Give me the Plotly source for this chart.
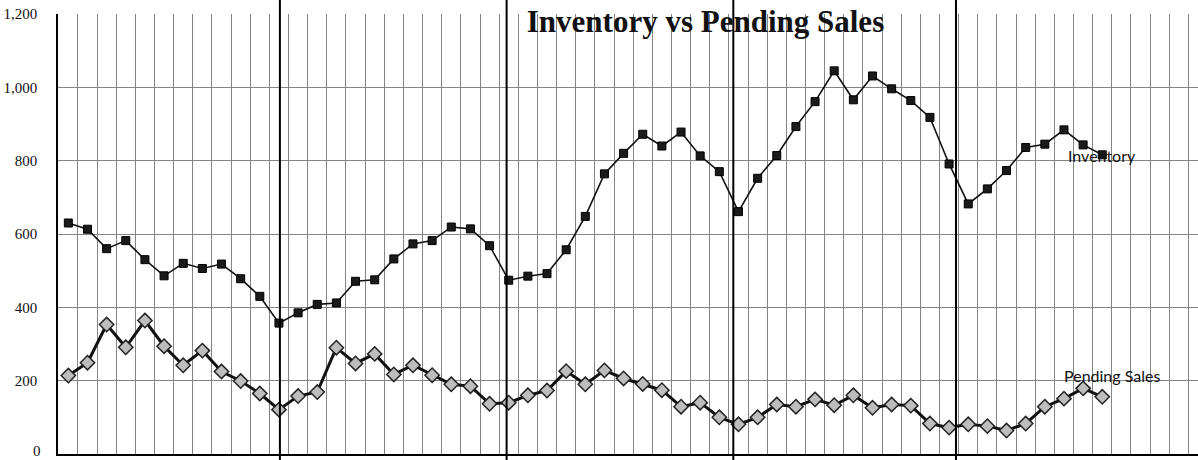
import plotly.graph_objects as go

# ---- data ----
inventory = [630, 613, 560, 582, 530, 486, 520, 506, 518, 478, 430, 357,
             385, 408, 412, 471, 475, 532, 573, 582, 619, 614, 568, 474,
             485, 492, 557, 648, 764, 820, 872, 840, 878, 813, 770, 661,
             752, 814, 893, 961, 1045, 966, 1031, 996, 964, 918, 791, 682,
             723, 773, 836, 845, 884, 843, 816]
pending_sales = [214, 249, 353, 291, 364, 294, 242, 282, 225, 199, 165, 121,
                 158, 169, 290, 247, 273, 217, 242, 215, 190, 185, 137, 140,
                 160, 173, 226, 190, 228, 206, 191, 174, 129, 140, 100, 81,
                 100, 135, 129, 149, 133, 160, 126, 135, 132, 83, 72, 81,
                 76, 64, 83, 129, 151, 179, 156]
months = list(range(len(inventory)))
separators = [11.05, 22.89, 34.73, 46.36]   # hand-drawn year separator lines
y_ticks = [0, 200, 400, 600, 800, 1000, 1200]
y_tick_labels = ["0", "200", "400", "600", "800", "1,000", "1,200"]
title_text = "Inventory vs Pending Sales"

tick_font = dict(family="Liberation Serif", size=15, color="#111")

fig = go.Figure()

fig.add_trace(go.Scatter(
    x=months, y=inventory, name="Inventory", mode="lines+markers",
    line=dict(color="#111111", width=1.6),
    marker=dict(symbol="square", size=8, color="#1a1a1a",
                line=dict(color="#000000", width=1)),
    cliponaxis=False,
))
fig.add_trace(go.Scatter(
    x=months, y=pending_sales, name="Pending Sales", mode="lines+markers",
    line=dict(color="#111111", width=3),
    marker=dict(symbol="diamond", size=11, color="#bdbdbd",
                line=dict(color="#222222", width=1.5)),
    cliponaxis=False,
))

for s in separators:
    fig.add_shape(type="line", xref="x", yref="paper", x0=s, x1=s,
                  y0=-0.02, y1=1.04, line=dict(color="#000000", width=2),
                  layer="above")

# series labels at the last points
fig.add_annotation(x=months[-1], y=inventory[-1], text="Inventory",
                   showarrow=False, xanchor="center", yanchor="middle",
                   yshift=-1, font=dict(family="Lato", size=16, color="#111"))
fig.add_annotation(x=months[-1], y=pending_sales[-1], text="Pending Sales",
                   showarrow=False, xanchor="center", yanchor="middle",
                   xshift=10, yshift=21,
                   font=dict(family="Lato", size=16, color="#111"))

# bottom tick label drawn separately so it stays fully inside the page
fig.add_annotation(xref="paper", x=0, y=y_ticks[0], yref="y",
                   text=y_tick_labels[0], showarrow=False,
                   xanchor="right", yanchor="middle", xshift=-15, yshift=3,
                   font=tick_font)

fig.update_layout(
    width=1198, height=460,
    margin=dict(l=58, r=0, t=14, b=6, autoexpand=False),
    paper_bgcolor="white", plot_bgcolor="white",
    showlegend=False,
    title=dict(text="<b>" + title_text + "</b>", xref="container",
               yref="container", x=705.5 / 1198, y=1 - 21 / 460,
               xanchor="center", yanchor="middle",
               font=dict(family="Liberation Serif", size=31, color="#111")),
)
fig.update_xaxes(
    range=[-0.54, 59.0], showticklabels=False, ticks="", automargin=False,
    tick0=0.5, dtick=1, showgrid=True, gridcolor="#858585", gridwidth=1,
    showline=True, linecolor="#000000", linewidth=1.5, zeroline=False,
)
fig.update_yaxes(
    range=[0, 1200], tickvals=y_ticks[1:], ticktext=y_tick_labels[1:],
    automargin=False, ticklabeloverflow="allow",
    showgrid=True, gridcolor="#858585", gridwidth=1,
    showline=True, linecolor="#000000", linewidth=1.5, zeroline=False,
    ticks="", ticklabelstandoff=16,
    tickfont=tick_font,
)

fig.write_html(
    "out.html",
    config={"displayModeBar": False},
    post_script="document.body.style.margin='0';document.body.style.padding='0';",
)
